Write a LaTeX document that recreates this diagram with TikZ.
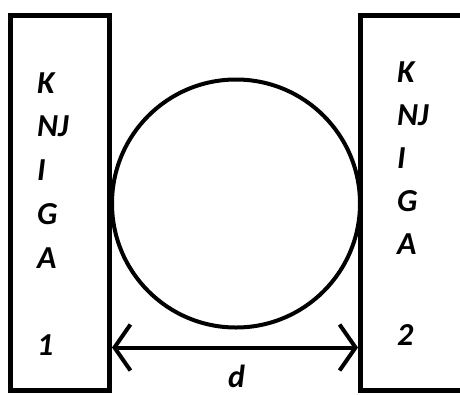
\documentclass[tikz,border=0pt]{standalone}
\usepackage{fontspec}
\setmainfont{Carlito}
\usetikzlibrary{arrows.meta}

\begin{document}
\begin{tikzpicture}[%
    x=1pt, y=-1pt,
    book/.style = {draw, line width=5pt, minimum height=375pt},
    letter/.style = {anchor=base west, inner sep=0pt, font=\bfseries\itshape\fontsize{32}{38}\selectfont},
    every edge/.style = {draw, line width=4pt, {Straight Barb[length=16pt, width=46pt]}-{Straight Barb[length=16pt, width=46pt]}}
]
\useasboundingbox (0,0) rectangle (460,394);
\clip (0,0) rectangle (460,394);
\node (book1) [book, minimum width=99pt] at (60,203) {};
\node (book2) [book, minimum width=110pt] at (415.5,203) {};
\node (ball) [draw, circle, line width=4pt, minimum size=248pt, inner sep=0pt] at (236,203.5) {};
\foreach \t [count=\i] in {K,NJ,I,G,A} {
    \node (l\i) [letter] at (37, 93+43.75*\i-43.75) {\t};
    \node (r\i) [letter] at (397, 82+43*\i-43) {\t};
}
\node (l6) [letter] at (37,355) {1};
\node (r6) [letter] at (397,345) {2};
\coordinate (dimy) at (0,347.5);
\coordinate (dl) at (book1.east |- dimy);
\coordinate (dr) at (book2.west |- dimy);
\path (dl) edge (dr);
\node (dlabel) [letter] at (228,387) {d};
\end{tikzpicture}
\end{document}
